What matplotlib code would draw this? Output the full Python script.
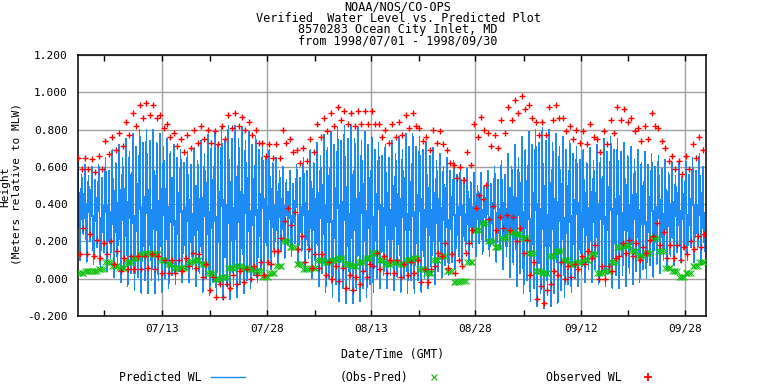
import numpy as np
import matplotlib.pyplot as plt
from matplotlib.lines import Line2D
from matplotlib.ticker import FormatStrFormatter

# days since 1998/07/01 00:00 GMT
days = np.arange(92)

# predicted tides per day (m, MLW): higher high, lower low, lower high, higher low
pred_hh = [0.62, 0.61, 0.60, 0.61, 0.65, 0.69, 0.72, 0.75, 0.78, 0.80,
           0.80, 0.80, 0.78, 0.75, 0.72, 0.69, 0.68, 0.70, 0.74, 0.77,
           0.79, 0.81, 0.82, 0.82, 0.81, 0.79, 0.76, 0.72, 0.69, 0.65,
           0.60, 0.58, 0.61, 0.65, 0.69, 0.73, 0.77, 0.79, 0.81, 0.82,
           0.82, 0.81, 0.79, 0.76, 0.73, 0.72, 0.74, 0.76, 0.78, 0.78,
           0.76, 0.73, 0.70, 0.67, 0.65, 0.63, 0.61, 0.59, 0.57, 0.57,
           0.58, 0.60, 0.63, 0.67, 0.72, 0.76, 0.79, 0.80, 0.81, 0.80,
           0.78, 0.76, 0.74, 0.71, 0.69, 0.70, 0.72, 0.75, 0.76, 0.75,
           0.73, 0.71, 0.69, 0.68, 0.67, 0.66, 0.64, 0.62, 0.62, 0.63,
           0.65, 0.67]
pred_ll = [0.10, 0.09, 0.08, 0.06, 0.04, 0.01, -0.02, -0.04, -0.06, -0.08,
           -0.08, -0.08, -0.07, -0.05, -0.03, -0.02, -0.02, -0.04, -0.07, -0.09,
           -0.10, -0.11, -0.11, -0.10, -0.08, -0.05, -0.02, 0.01, 0.05, 0.08,
           0.11, 0.12, 0.08, 0.04, 0.00, -0.04, -0.07, -0.10, -0.12, -0.13,
           -0.13, -0.12, -0.10, -0.07, -0.05, -0.05, -0.06, -0.07, -0.08, -0.08,
           -0.07, -0.05, -0.03, 0.00, 0.02, 0.05, 0.08, 0.10, 0.12, 0.13,
           0.12, 0.09, 0.05, 0.01, -0.04, -0.08, -0.12, -0.15, -0.16, -0.15,
           -0.13, -0.10, -0.07, -0.04, -0.02, -0.02, -0.03, -0.04, -0.05, -0.05,
           -0.04, -0.03, -0.02, 0.00, 0.01, 0.03, 0.05, 0.07, 0.09, 0.10,
           0.09, 0.08]
pred_lh = [0.56, 0.55, 0.53, 0.54, 0.58, 0.62, 0.65, 0.68, 0.71, 0.73,
           0.74, 0.73, 0.71, 0.68, 0.65, 0.62, 0.61, 0.63, 0.67, 0.70,
           0.72, 0.74, 0.75, 0.75, 0.74, 0.72, 0.69, 0.65, 0.62, 0.58,
           0.53, 0.51, 0.54, 0.58, 0.62, 0.66, 0.70, 0.72, 0.74, 0.75,
           0.75, 0.74, 0.72, 0.69, 0.66, 0.65, 0.67, 0.69, 0.71, 0.71,
           0.69, 0.66, 0.63, 0.60, 0.58, 0.56, 0.54, 0.52, 0.50, 0.50,
           0.51, 0.53, 0.56, 0.60, 0.65, 0.69, 0.72, 0.73, 0.74, 0.73,
           0.71, 0.69, 0.67, 0.64, 0.62, 0.63, 0.65, 0.68, 0.69, 0.68,
           0.66, 0.64, 0.62, 0.61, 0.60, 0.59, 0.57, 0.55, 0.55, 0.56,
           0.58, 0.60]
pred_hl = [0.24, 0.20, 0.17, 0.14, 0.11, 0.08, 0.05, 0.03, 0.01, -0.01,
           -0.01, -0.01, 0.00, 0.02, 0.04, 0.05, 0.05, 0.03, 0.00, -0.02,
           -0.03, -0.04, -0.04, -0.03, -0.01, 0.02, 0.05, 0.08, 0.12, 0.15,
           0.18, 0.19, 0.15, 0.11, 0.07, 0.03, 0.00, -0.03, -0.05, -0.06,
           -0.06, -0.05, -0.03, 0.00, 0.02, 0.02, 0.01, 0.00, -0.01, -0.01,
           0.00, 0.02, 0.04, 0.07, 0.09, 0.12, 0.15, 0.17, 0.19, 0.20,
           0.19, 0.16, 0.12, 0.08, 0.03, -0.01, -0.05, -0.08, -0.09, -0.08,
           -0.06, -0.03, 0.00, 0.03, 0.05, 0.05, 0.04, 0.03, 0.02, 0.02,
           0.03, 0.04, 0.05, 0.07, 0.08, 0.10, 0.12, 0.14, 0.16, 0.17,
           0.16, 0.15]

# observed minus predicted, per day
resid = [0.03, 0.04, 0.04, 0.05, 0.09, 0.07, 0.06, 0.09, 0.11, 0.13,
         0.14, 0.13, 0.10, 0.08, 0.06, 0.06, 0.09, 0.10, 0.08, 0.03,
         0.00, 0.01, 0.06, 0.07, 0.06, 0.05, 0.04, 0.01, 0.03, 0.07,
         0.20, 0.17, 0.08, 0.05, 0.06, 0.10, 0.09, 0.10, 0.11, 0.08,
         0.07, 0.09, 0.11, 0.14, 0.10, 0.08, 0.09, 0.08, 0.10, 0.11,
         0.05, 0.03, 0.10, 0.12, 0.04, -0.02, -0.01, 0.09, 0.26, 0.30,
         0.20, 0.17, 0.22, 0.25, 0.24, 0.22, 0.14, 0.04, 0.03, 0.12,
         0.15, 0.10, 0.08, 0.09, 0.10, 0.13, 0.03, 0.04, 0.09, 0.17,
         0.18, 0.15, 0.12, 0.14, 0.22, 0.15, 0.06, 0.04, 0.01, 0.03,
         0.07, 0.09]

# time of day (fraction) of each tide: HH, LL, LH, HL
tide_times = [0.10, 0.35, 0.60, 0.85]

tick_days = [12.34, 27.72, 43.04, 58.28, 73.72, 89.04]
tick_labels = ['07/13', '07/28', '08/13', '08/28', '09/12', '09/28']
minor_days = [3.93, 19.41, 34.75, 49.98, 65.37, 80.7]

t = (days[:, None] + np.array(tide_times)[None, :]).ravel()
pred = np.column_stack([pred_hh, pred_ll, pred_lh, pred_hl])
res = np.repeat(np.array(resid)[:, None], 4, axis=1)
obs = pred + res

plt.rcParams['font.family'] = 'DejaVu Sans Mono'
plt.rcParams['font.size'] = 8

blue = '#1c8cf4'
green = '#10c010'

fig = plt.figure(figsize=(7.68, 3.84), dpi=100)
ax = fig.add_axes([77.5 / 768, 1 - 316 / 384, 628 / 768, 261 / 384])

ax.plot(t, pred.ravel(), color=blue, lw=0.45, antialiased=False, zorder=2)
ax.plot(t, res.ravel(), ls='none', marker='x', ms=4, mew=0.7, color=green, zorder=3)
ax.plot(t, obs.ravel(), ls='none', marker='+', ms=4.5, mew=1.0, color='red', zorder=4)

ax.set_xlim(0, 92)
ax.set_ylim(-0.2, 1.2)
ax.set_yticks(np.arange(-0.2, 1.21, 0.2))
ax.yaxis.set_major_formatter(FormatStrFormatter('%.3f'))
ax.set_xticks(tick_days)
ax.set_xticklabels(tick_labels)
ax.set_xticks(minor_days, minor=True)
ax.tick_params(axis='x', which='both', direction='in', top=True, bottom=True,
               length=4, width=1, pad=6)
ax.tick_params(axis='y', length=0, pad=7)
ax.grid(True, which='major', color='#a0a0a0', lw=1.0)
ax.set_axisbelow(True)
for s in ax.spines.values():
    s.set_linewidth(1.1)

titles = ['NOAA/NOS/CO-OPS', 'Verified  Water Level vs. Predicted Plot',
          '8570283 Ocean City Inlet, MD', 'from 1998/07/01 - 1998/09/30']
fig.text(398 / 768, 1 - 1 / 384, '\n'.join(titles), ha='center', va='top',
         fontsize=8.5, linespacing=0.82)

fig.text(5 / 768, 1 - 187 / 384, 'Height', rotation=90, ha='center', va='center')
fig.text(17 / 768, 1 - 184 / 384, '(Meters relative to MLW)', rotation=90,
         ha='center', va='center')
fig.text(393 / 768, 1 - 354 / 384, 'Date/Time (GMT)', ha='center', va='center', fontsize=8.3)

handles = [Line2D([], [], color=blue, lw=1.0),
           Line2D([], [], ls='none', marker='x', ms=4.5, mew=0.8, color=green),
           Line2D([], [], ls='none', marker='+', ms=5.5, mew=1.3, color='red')]
fig.legend(handles, ['Predicted WL', '(Obs-Pred)', 'Observed WL'],
           loc='center', bbox_to_anchor=(0.5104, 0.018), ncol=3, frameon=False,
           markerfirst=False, handlelength=3, handletextpad=0.8,
           columnspacing=8.15, fontsize=8.3)

fig.savefig('out.png', dpi=100)
